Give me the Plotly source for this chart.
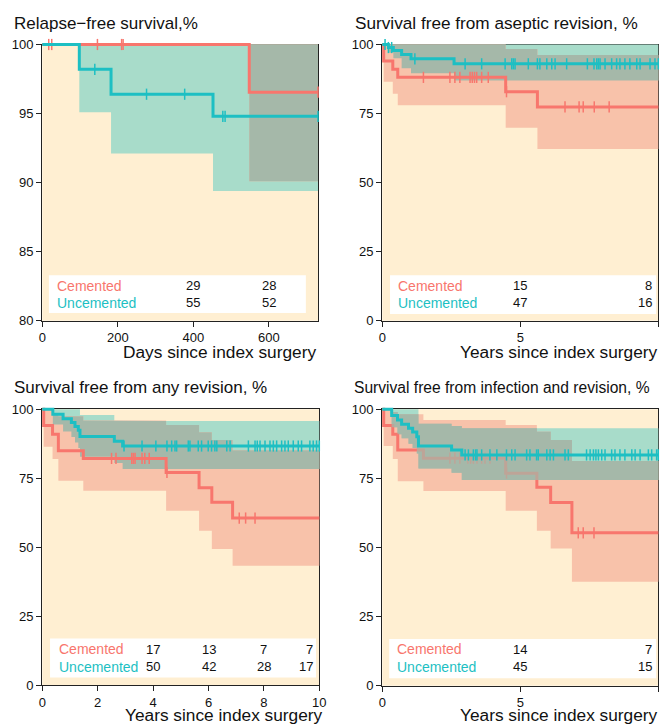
import plotly.graph_objects as go

# ---------------- DATA ----------------
# Panel 1: Relapse-free survival (days)
p1_end = 730
p1_c_t = [0, 548]
p1_c_s = [100, 96.55]
p1_c_lo = [100, 90.1]
p1_c_hi = [100, 100]
p1_u_t = [0, 98, 182, 452]
p1_u_s = [100, 98.2, 96.4, 94.8]
p1_u_lo = [100, 95.1, 92.1, 89.4]
p1_u_hi = [100, 100, 100, 100]
p1_c_cens = [17, 25, 146, 210, 214, 730]
p1_u_cens = [139, 276, 377, 478, 484, 730]
p1_risk_t = [400, 600]
p1_risk_c = [29, 28]
p1_risk_u = [55, 52]

# Panel 2: aseptic revision (years)
p2_end = 10
p2_c_t = [0, 0.05, 0.38, 0.56, 4.47, 5.62]
p2_c_s = [100, 94.0, 91.0, 88.1, 82.9, 77.4]
p2_c_lo = [100, 86.5, 82.2, 78.0, 69.9, 62.2]
p2_c_hi = [100, 100, 100, 100, 98.4, 96.2]
p2_u_t = [0, 0.22, 0.4, 0.7, 1.04, 2.6]
p2_u_s = [100, 98.9, 97.8, 96.4, 94.8, 93.0]
p2_u_lo = [100, 97.0, 95.0, 91.4, 89.6, 87.0]
p2_u_hi = [100, 100, 100, 100, 100, 100]
p2_c_cens = [1.49, 2.45, 2.63, 2.81, 3.18, 3.26, 3.34, 3.42, 3.6, 3.84, 4.5,
             6.62, 7.13, 7.28, 7.68, 8.22]
p2_u_cens = [0.1, 0.22, 0.34, 1.18, 3.0, 3.6, 4.45, 4.69, 4.75, 4.81, 5.29, 5.62,
             5.71, 5.96, 6.14, 6.26, 6.68, 7.43, 7.67, 7.77, 7.83, 7.89, 8.07,
             8.31, 8.49, 8.61, 8.79, 8.97, 9.22, 9.34, 9.7, 9.88, 10.0]
p2_risk_t = [5, 10]
p2_risk_c = [15, 8]
p2_risk_u = [47, 16]

# Panel 3: any revision (years)
p3_end = 10
p3_c_t = [0, 0.05, 0.37, 0.58, 1.48, 4.47, 5.66, 6.12, 6.87]
p3_c_s = [100, 94.1, 91.0, 85.0, 82.2, 77.1, 71.6, 66.3, 60.6]
p3_c_lo = [100, 86.4, 82.0, 74.1, 70.5, 63.2, 56.0, 49.4, 43.3]
p3_c_hi = [100, 100, 98.0, 97.5, 95.9, 94.3, 91.7, 88.9, 85.2]
p3_u_t = [0, 0.38, 0.75, 1.05, 1.18, 1.3, 1.36, 2.6, 2.9]
p3_u_s = [100, 98.2, 96.6, 95.2, 93.8, 92.4, 90.1, 88.4, 86.7]
p3_u_lo = [100, 94.5, 92.0, 90.0, 88.0, 86.0, 82.8, 80.5, 78.4]
p3_u_hi = [100, 100, 100, 100, 100, 100, 97.9, 95.8, 95.8]
p3_c_cens = [2.5, 2.66, 3.23, 3.29, 3.35, 3.6, 3.7, 3.86, 4.5, 7.11, 7.34, 7.68]
p3_u_cens = [2.95, 3.6, 4.1, 4.5, 4.67, 4.79, 4.85, 5.27, 5.33, 5.63, 5.75, 5.99,
             6.11, 6.23, 6.3, 6.66, 6.78, 7.44, 7.68, 7.76, 7.86, 8.04, 8.22,
             8.34, 8.46, 8.64, 8.76, 8.88, 9.06, 9.24, 9.36, 9.66, 9.78, 9.9, 10.0]
p3_risk_t = [4, 6, 8, 10]
p3_risk_c = [17, 13, 7, 7]
p3_risk_u = [50, 42, 28, 17]

# Panel 4: infection and revision (years)
p4_end = 10
p4_c_t = [0, 0.05, 0.38, 0.56, 1.49, 4.47, 5.6, 6.1, 6.87]
p4_c_s = [100, 94.1, 91.0, 85.3, 82.3, 76.9, 71.8, 66.3, 55.3]
p4_c_lo = [100, 86.7, 82.0, 74.0, 70.4, 63.3, 56.1, 49.6, 37.6]
p4_c_hi = [100, 100, 99.0, 98.2, 96.1, 94.3, 91.9, 88.9, 81.3]
p4_u_t = [0, 0.34, 0.55, 0.7, 0.95, 1.1, 1.25, 1.31, 2.51, 2.88]
p4_u_s = [100, 97.8, 96.1, 94.6, 93.1, 91.8, 90.1, 86.7, 85.3, 83.5]
p4_u_lo = [100, 93.5, 91.0, 89.5, 87.5, 86.0, 84.0, 78.6, 77.0, 74.4]
p4_u_hi = [100, 100, 100, 100, 100, 100, 100, 94.8, 94.0, 93.1]
p4_c_cens = [2.45, 2.63, 2.81, 3.1, 3.2, 3.3, 3.43, 3.6, 3.72, 3.9, 4.5, 7.1, 7.28, 7.67]
p4_u_cens = [3.0, 3.12, 3.3, 3.38, 3.43, 3.6, 3.9, 4.15, 4.5, 4.69, 4.81, 5.23,
             5.35, 5.59, 5.65, 5.96, 6.08, 6.2, 6.62, 6.74, 7.4, 7.53, 7.65, 7.74,
             7.83, 7.95, 8.07, 8.31, 8.43, 8.61, 8.79, 9.04, 9.16, 9.34, 9.64,
             9.76, 9.94, 10.0]
p4_risk_t = [5, 10]
p4_risk_c = [14, 7]
p4_risk_u = [45, 15]

titles = ["Relapse\u2212free survival,%", "Survival free from aseptic revision, %",
          "Survival free from any revision, %", "Survival free from infection and revision, %"]
xtitles = ["Days since index surgery", "Years since index surgery",
           "Years since index surgery", "Years since index surgery"]
group_names = ["Cemented", "Uncemented"]

# ---------------- STYLE ----------------
W, H = 665, 726
CREAM = "#FFEFD2"
SAL = "#F8766D"
TEAL = "#1DBFC3"
SAL_BAND = "#F8C2AA"
TEAL_BAND = "#A8DCCA"
OVER = "#A5B8A9"
FONT = "Liberation Sans"
EXT = 5  # px of extra drawing room around each panel (so curves at 100% are not clipped)

panels = [
    dict(end=p1_end, c=(p1_c_t, p1_c_s, p1_c_lo, p1_c_hi), u=(p1_u_t, p1_u_s, p1_u_lo, p1_u_hi),
         cc=p1_c_cens, uc=p1_u_cens, rt=p1_risk_t, rc=p1_risk_c, ru=p1_risk_u,
         px=(42.3, 318.0), py=(44.5, 320.7), yr=[80, 100], yt=[80, 85, 90, 95, 100],
         xt=[0, 200, 400, 600], title_xy=(12, 23), tsize=17, xt_xy=(318, 352),
         box=(0.024, 0.956, 0.028, 0.165), rows=(0.127, 0.065), labx=0.046, gray_line=False),
    dict(end=p2_end, c=(p2_c_t, p2_c_s, p2_c_lo, p2_c_hi), u=(p2_u_t, p2_u_s, p2_u_lo, p2_u_hi),
         cc=p2_c_cens, uc=p2_u_cens, rt=p2_risk_t, rc=p2_risk_c, ru=p2_risk_u,
         px=(382.3, 658.3), py=(44.5, 320.7), yr=[0, 100], yt=[0, 25, 50, 75, 100],
         xt=[0, 5, 10], title_xy=(353, 23), tsize=17.2, xt_xy=(660, 352),
         box=(0.028, 0.992, 0.024, 0.165), rows=(0.127, 0.065), labx=0.05, gray_line=False),
    dict(end=p3_end, c=(p3_c_t, p3_c_s, p3_c_lo, p3_c_hi), u=(p3_u_t, p3_u_s, p3_u_lo, p3_u_hi),
         cc=p3_c_cens, uc=p3_u_cens, rt=p3_risk_t, rc=p3_risk_c, ru=p3_risk_u,
         px=(42.3, 319.3), py=(409.3, 685.3), yr=[0, 100], yt=[0, 25, 50, 75, 100],
         xt=[0, 2, 4, 6, 8, 10], title_xy=(12, 388), tsize=17, xt_xy=(325, 715),
         box=(0.028, 0.988, 0.028, 0.170), rows=(0.13, 0.067), labx=0.052, gray_line=False),
    dict(end=p4_end, c=(p4_c_t, p4_c_s, p4_c_lo, p4_c_hi), u=(p4_u_t, p4_u_s, p4_u_lo, p4_u_hi),
         cc=p4_c_cens, uc=p4_u_cens, rt=p4_risk_t, rc=p4_risk_c, ru=p4_risk_u,
         px=(382.3, 658.3), py=(409.3, 685.7), yr=[0, 100], yt=[0, 25, 50, 75, 100],
         xt=[0, 5, 10], title_xy=(352, 388), tsize=15.6, xt_xy=(660, 715),
         box=(0.025, 0.992, 0.027, 0.169), rows=(0.132, 0.069), labx=0.046, gray_line=True),
]


def step_val(t, v, x):
    val = v[0]
    for ti, vi in zip(t, v):
        if ti <= x:
            val = vi
    return val


def step_path(t, v, end):
    xs, ys = [], []
    for i in range(len(t)):
        t1 = t[i + 1] if i + 1 < len(t) else end
        xs += [t[i], t1]
        ys += [v[i], v[i]]
    return xs, ys


def band_poly(t, lo, hi, end):
    xu, yu = step_path(t, hi, end)
    xl, yl = step_path(t, lo, end)
    return xu + xl[::-1] + [xu[0]], yu + yl[::-1] + [yu[0]]


fig = go.Figure()
shapes = []
annotations = []
hidden = dict(visible=False, showgrid=False, zeroline=False, fixedrange=True, automargin=False)

for k, p in enumerate(panels):
    sfx = "" if k == 0 else str(k + 1)
    xa, ya = "x" + sfx, "y" + sfx
    ex, ey = "x" + str(k + 5), "y" + str(k + 5)
    end = p["end"]
    ct, cs, clo, chi = p["c"]
    ut, us, ulo, uhi = p["u"]
    x0, x1 = p["px"]
    y0, y1 = p["py"]

    # cream plot background
    shapes.append(dict(type="rect", xref="paper", yref="paper", x0=x0 / W, x1=x1 / W,
                       y0=1 - y1 / H, y1=1 - y0 / H, fillcolor=CREAM, line=dict(width=0),
                       layer="below"))

    # CI bands
    bx, by = band_poly(ut, ulo, uhi, end)
    fig.add_trace(go.Scatter(x=bx, y=by, fill="toself", fillcolor=TEAL_BAND, mode="lines",
                             line=dict(width=0), hoverinfo="skip", showlegend=False, xaxis=ex, yaxis=ey))
    bx, by = band_poly(ct, clo, chi, end)
    fig.add_trace(go.Scatter(x=bx, y=by, fill="toself", fillcolor=SAL_BAND, mode="lines",
                             line=dict(width=0), hoverinfo="skip", showlegend=False, xaxis=ex, yaxis=ey))
    grid = sorted(set(ct) | set(ut))
    olo, ohi = [], []
    for g in grid:
        lo = max(step_val(ct, clo, g), step_val(ut, ulo, g))
        hi = min(step_val(ct, chi, g), step_val(ut, uhi, g))
        olo.append(lo)
        ohi.append(max(hi, lo))
    ox, oy = band_poly(grid, olo, ohi, end)
    fig.add_trace(go.Scatter(x=ox, y=oy, fill="toself", fillcolor=OVER, mode="lines",
                             line=dict(width=0), hoverinfo="skip", showlegend=False, xaxis=ex, yaxis=ey))

    # risk table box
    b = p["box"]
    shapes.append(dict(type="rect", xref=xa + " domain", yref=ya + " domain",
                       x0=b[0], x1=b[1], y0=b[2], y1=b[3], fillcolor="white",
                       line=dict(width=0), layer="above"))

    # cemented curve
    fig.add_trace(go.Scatter(x=ct + [end], y=cs + [cs[-1]], mode="lines", line_shape="hv",
                             line=dict(color=SAL, width=3), hoverinfo="skip", showlegend=False,
                             xaxis=ex, yaxis=ey))
    fig.add_trace(go.Scatter(x=p["cc"], y=[step_val(ct, cs, x) for x in p["cc"]], mode="markers",
                             marker=dict(symbol="line-ns-open", size=8, color=SAL,
                                         line=dict(color=SAL, width=1.5)),
                             cliponaxis=False, hoverinfo="skip", showlegend=False, xaxis=ex, yaxis=ey))
    if p["gray_line"]:
        fig.add_trace(go.Scatter(x=ox, y=oy, fill="toself", fillcolor="rgba(165,184,169,0.7)", mode="lines",
                                 line=dict(width=0), hoverinfo="skip", showlegend=False, xaxis=ex, yaxis=ey))
    # uncemented curve
    fig.add_trace(go.Scatter(x=ut + [end], y=us + [us[-1]], mode="lines", line_shape="hv",
                             line=dict(color=TEAL, width=3), hoverinfo="skip", showlegend=False,
                             xaxis=ex, yaxis=ey))
    fig.add_trace(go.Scatter(x=p["uc"], y=[step_val(ut, us, x) for x in p["uc"]], mode="markers",
                             marker=dict(symbol="line-ns-open", size=8, color=TEAL,
                                         line=dict(color=TEAL, width=1.5)),
                             cliponaxis=False, hoverinfo="skip", showlegend=False, xaxis=ex, yaxis=ey))

    # visible axes (frame + ticks)
    common = dict(showline=True, mirror=True, linecolor="#222", linewidth=1.3, ticks="outside",
                  ticklen=5, tickwidth=1.2, tickcolor="#222", showgrid=False, zeroline=False,
                  automargin=False, fixedrange=True,
                  tickfont=dict(family=FONT, size=13, color="#111"))
    fig.layout["xaxis" + sfx] = dict(domain=[x0 / W, x1 / W], range=[0, end], tickvals=p["xt"],
                                     anchor=ya, **common)
    fig.layout["yaxis" + sfx] = dict(domain=[1 - y1 / H, 1 - y0 / H], range=p["yr"], tickvals=p["yt"],
                                     anchor=xa, **common)
    # drawing axes, slightly larger, same data-to-pixel mapping
    dx = EXT * end / (x1 - x0)
    yspan = p["yr"][1] - p["yr"][0]
    dy = EXT * yspan / (y1 - y0)
    fig.layout["xaxis" + str(k + 5)] = dict(domain=[(x0 - EXT) / W, (x1 + EXT) / W],
                                            range=[-dx, end + dx], anchor=ey, **hidden)
    fig.layout["yaxis" + str(k + 5)] = dict(domain=[1 - (y1 + EXT) / H, 1 - (y0 - EXT) / H],
                                            range=[p["yr"][0] - dy, p["yr"][1] + dy], anchor=ex, **hidden)

    # titles
    tx, ty = p["title_xy"]
    annotations.append(dict(text=titles[k], xref="paper", yref="paper", x=tx / W, y=1 - ty / H,
                            xanchor="left", yanchor="middle", showarrow=False,
                            font=dict(family=FONT, size=p["tsize"], color="#111")))
    ax_, ay_ = p["xt_xy"]
    annotations.append(dict(text=xtitles[k], xref="paper", yref="paper", x=ax_ / W, y=1 - ay_ / H,
                            xanchor="right", yanchor="middle", showarrow=False,
                            font=dict(family=FONT, size=17.3, color="#111")))

    # risk table text
    for row_y, name, col, vals in [(p["rows"][0], group_names[0], SAL, p["rc"]),
                                   (p["rows"][1], group_names[1], TEAL, p["ru"])]:
        annotations.append(dict(text=name, xref=xa + " domain", yref=ya + " domain", x=p["labx"],
                                y=row_y, xanchor="left", yanchor="middle", showarrow=False,
                                font=dict(family=FONT, size=14, color=col)))
        for tt, vv in zip(p["rt"], vals):
            at_end = tt >= end
            annotations.append(dict(text=str(vv), xref=xa, yref=ya + " domain",
                                    x=tt * 0.985 if at_end else tt, y=row_y,
                                    xanchor="right" if at_end else "center", yanchor="middle",
                                    showarrow=False, font=dict(family=FONT, size=13, color="#111")))

fig.update_layout(width=W, height=H, margin=dict(l=0, r=0, t=0, b=0, autoexpand=False),
                  paper_bgcolor="white", plot_bgcolor="rgba(0,0,0,0)", shapes=shapes,
                  annotations=annotations, showlegend=False)

fig.write_html("out.html", config={"displayModeBar": False},
               post_script="document.body.style.margin='0';document.body.style.overflow='hidden';")
